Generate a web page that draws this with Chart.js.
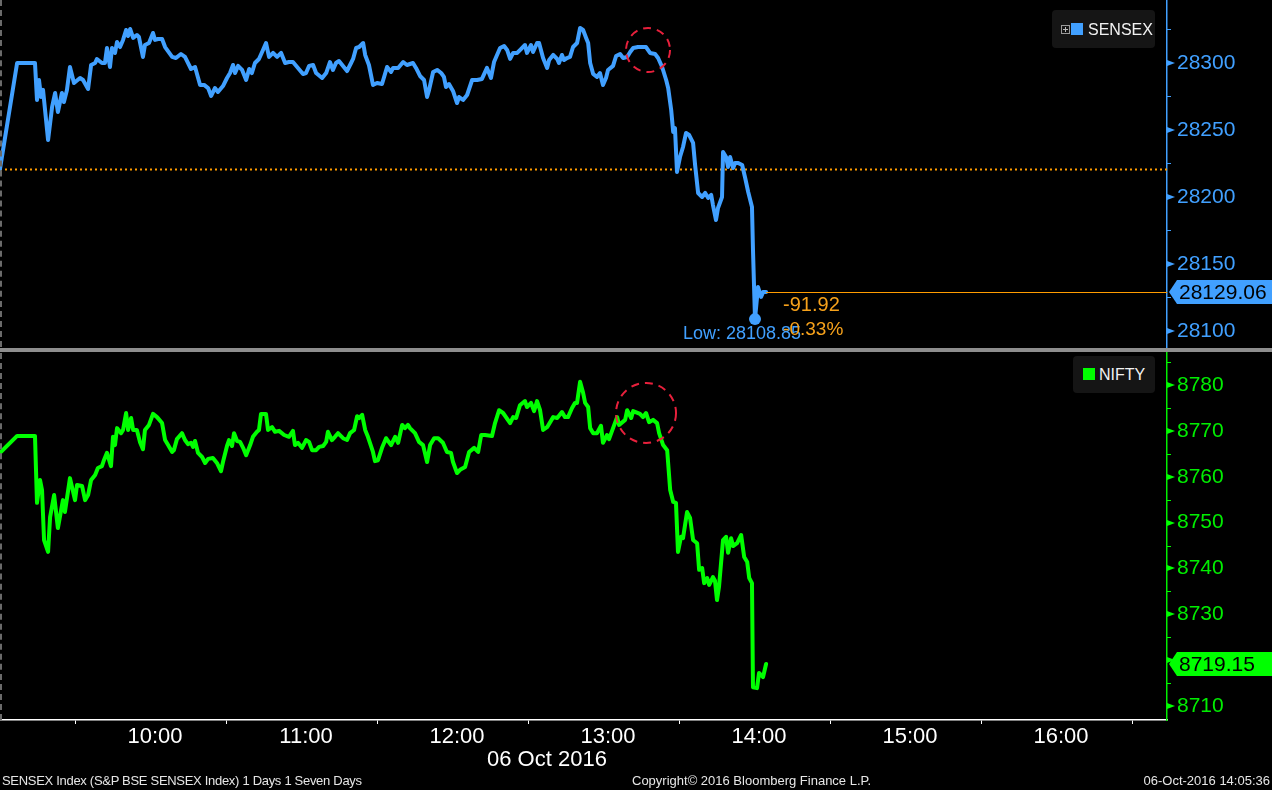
<!DOCTYPE html>
<html><head><meta charset="utf-8">
<script src="https://cdn.jsdelivr.net/npm/chart.js@4.4.1/dist/chart.umd.min.js"></script>
<style>
html,body{margin:0;padding:0;background:#000;width:1272px;height:790px;overflow:hidden;font-family:"Liberation Sans",Arial,sans-serif;}
#wrap{position:relative;width:1272px;height:790px;background:#000;}
canvas{position:absolute;left:0;}
#c1{top:0}
#c2{top:352px}
.sep{position:absolute;left:0;top:348px;width:1272px;height:4px;background:#8e8e8e;}
.ldash{position:absolute;left:0;width:0;border-left:2px dashed #6a6a6a;}
.legend{position:absolute;background:#151515;border-radius:4px;}
.legend .sw{position:absolute;}
.legend .txt{position:absolute;color:#f2f2f2;font-size:16px;line-height:16px;white-space:nowrap;}
.legend .plus{position:absolute;width:7px;height:7px;border:1px solid #9a9a9a;}
.legend .plus:before{content:"";position:absolute;left:1px;top:3px;width:5px;height:1px;background:#bbb;}
.legend .plus:after{content:"";position:absolute;left:3px;top:1px;width:1px;height:5px;background:#bbb;}
.foot{position:absolute;top:773px;color:#e6e6e6;font-size:13px;line-height:16px;white-space:nowrap;}
.date{position:absolute;left:487px;top:746px;color:#fff;font-size:22px;line-height:26px;white-space:nowrap;}
</style></head>
<body><div id="wrap">
<canvas id="c1" width="1272" height="348"></canvas>
<canvas id="c2" width="1272" height="438"></canvas>
<div class="sep"></div>
<div class="ldash" style="top:0;height:347px"></div>
<div class="ldash" style="top:353px;height:367px"></div>
<div class="legend" style="left:1052px;top:10px;width:103px;height:38px;">
  <span class="plus" style="left:9px;top:15px"></span>
  <span class="sw" style="left:19px;top:13px;width:12px;height:12px;background:#41a0ff"></span>
  <span class="txt" style="left:36px;top:12px">SENSEX</span>
</div>
<div class="legend" style="left:1073px;top:356px;width:82px;height:37px;">
  <span class="sw" style="left:10px;top:12px;width:12px;height:12px;background:#00ff00"></span>
  <span class="txt" style="left:26px;top:11px">NIFTY</span>
</div>
<div class="date">06 Oct 2016</div>
<div class="foot" style="left:2px;letter-spacing:-0.3px">SENSEX Index (S&amp;P BSE SENSEX Index) 1 Days 1 Seven Days</div>
<div class="foot" style="left:632px">Copyright© 2016 Bloomberg Finance L.P.</div>
<div class="foot" style="right:2px">06-Oct-2016 14:05:36</div>
</div>
<script>
// ---- data (times are minutes after 09:00) ----
const sensexTimes = [0,6.8,13.9,14.7,15.5,16.3,17.1,19.1,20.7,21.9,23.0,24.6,25.4,26.6,27.8,29.4,31.8,33.0,35.0,36.2,37.8,38.5,40.5,41.7,42.5,43.7,44.5,45.7,46.5,47.7,48.9,50.1,50.9,51.7,52.9,54.4,55.2,56.8,57.6,59.2,60.8,61.6,62.8,64.4,65.6,68.4,69.9,71.9,73.5,75.9,77.5,79.5,81.1,82.7,83.9,85.4,86.6,88.6,90.2,91.4,92.6,93.4,94.6,96.2,97.8,99.0,100.1,101.3,102.9,104.5,105.7,106.9,108.5,110.1,111.7,113.3,114.8,116.4,118.4,120.4,121.6,122.8,124.4,125.6,128.0,129.6,131.1,132.3,133.5,134.7,136.3,137.9,139.5,140.3,141.5,142.7,144.3,145.1,146.6,148.2,149.8,151.8,153.8,155.4,156.2,158.2,160.2,161.7,164.1,165.3,166.9,168.5,169.7,170.5,172.1,173.7,175.3,176.4,177.2,178.4,180.0,181.6,182.4,184.0,185.6,187.6,189.6,191.5,193.5,195.1,196.3,198.7,200.3,201.5,202.7,203.9,205.5,207.0,208.6,209.4,211.0,211.8,213.4,214.2,215.8,217.4,218.2,219.8,221.4,222.1,223.3,224.1,225.3,226.5,227.7,229.3,230.5,231.7,232.9,233.7,234.5,235.7,237.2,238.4,239.6,240.8,241.6,243.6,244.8,246.4,247.6,249.2,250.4,251.6,253.5,256.7,258.3,260.3,261.5,263.1,264.7,265.5,266.7,267.5,268.2,269.0,270.2,271.4,272.6,273.8,275.4,276.2,277.4,279.0,280.2,281.4,282.6,283.3,284.5,285.3,286.9,287.3,288.5,289.3,290.1,291.3,292.1,293.3,294.9,296.1,297.3,298.8,299.2,300.0,301.2,302.4,303.2,304.4];
const sensexValues = [28221,28300,28300,28272.4,28287.3,28274.6,28279.9,28242.5,28267.2,28277.6,28263.4,28277.6,28270.9,28279.9,28297,28285.1,28288.8,28287.3,28280.6,28298.5,28300,28303,28300,28300,28311.2,28297,28311.2,28307.5,28315.7,28311.9,28317.2,28324.6,28320.1,28325.4,28318.7,28320.9,28319.4,28304.5,28313.4,28314.9,28322.4,28317.2,28317.9,28317.9,28311.9,28304.5,28303.7,28306.7,28304.5,28295.5,28297,28283.6,28283.6,28281.3,28275.4,28281.3,28278.4,28282.8,28288.8,28292.5,28298.5,28292.5,28297.8,28294.8,28287.3,28295.5,28292.5,28300,28303,28309.7,28314.9,28304.5,28307.5,28304.5,28307.5,28300,28300.7,28300.7,28296.3,28291.8,28292.5,28297.8,28298.5,28292.5,28288.8,28292.5,28300.7,28294.8,28300,28301.5,28297.8,28294,28300,28303,28311.2,28311.9,28314.9,28306,28298.5,28283.6,28285.1,28284.3,28297,28293.3,28296.3,28296.3,
28300.7,28298.5,28300,28296.3,28290.3,28287.3,28274.6,28279.9,28293.3,28294.8,28292.5,28289.6,28282.1,28284.3,28279.1,28270.1,28274.6,28272.4,28276.1,28287.3,28287.3,28288.1,28296.3,28288.8,28300.7,28311.2,28312.7,28309.7,28303,28307.5,28307.5,28310.4,28313.4,28307.5,28313.4,28308.2,28314.9,28314.9,28303.7,28296.3,28302.2,28306,28303,28300,28306,28302.2,28303.7,28304.5,28311.9,28314.9,28326.1,28324.6,28318.7,28314.9,28300,28291.8,28289.6,28292.5,28283.6,28288.8,28294.8,28297.8,28305.2,28306.7,28303.7,28304.5,28308.2,28311.2,28311.9,28311.9,28307.5,28306.7,28303.7,28297,28287.3,28281.3,28264.9,28248.5,28251.5,28218.7,28229.8,28237.3,28247.8,28246.3,28240.3,28223.9,28203,28200,28203,28199.3,28201.5,28194,28182.8,28191.8,28200,28233.6,28229.8,28222.4,28229.8,28221.6,28225.4,28225.4,28223.9,28214.2,28203.7,28192.5,28160.4,28108.85,28132.8,28125.4,28129,28129.06];

const niftyTimes = [0,6.8,13.9,14.7,15.9,16.7,17.5,19.1,19.9,21.5,23.0,25.0,25.8,27.8,29.8,30.6,32.6,33.8,35.0,36.2,37.8,38.9,40.5,41.3,42.5,44.1,44.9,45.7,46.5,48.1,48.9,50.1,50.9,52.1,52.9,54.4,55.6,56.8,57.6,59.2,60.8,62.4,64.4,65.6,66.8,68.4,69.1,70.3,72.3,73.5,74.7,75.9,76.7,77.5,78.7,80.3,81.5,82.7,84.6,86.2,87.8,88.6,90.2,91.0,92.2,93.0,94.2,95.4,96.6,97.8,99.4,100.5,102.1,102.9,103.7,105.7,106.5,108.1,109.3,110.9,112.9,114.8,116.4,117.2,118.4,120.0,121.6,122.8,124.0,125.6,126.8,128.4,129.6,130.3,131.9,133.1,134.3,136.3,137.9,139.1,140.7,141.9,142.7,143.9,145.1,146.2,148.2,149.0,150.2,151.8,153.4,155.4,157.0,158.2,159.8,160.9,162.1,162.9,164.9,166.5,168.1,169.7,170.9,172.5,174.1,176.0,177.6,179.2,180.0,181.6,182.8,184.8,186.4,188.4,190.0,191.2,192.7,195.5,196.7,198.3,199.9,202.7,203.9,205.1,206.6,208.6,209.4,211.0,212.2,213.4,214.6,215.8,217.4,219.8,221.4,223.3,224.5,225.7,227.3,228.5,229.3,230.5,231.7,232.5,233.7,234.5,235.7,237.2,238.8,239.6,241.2,242.0,243.6,245.2,246.0,248.4,249.2,250.8,251.6,254.3,255.5,256.7,257.9,259.5,261.1,261.9,263.5,265.1,266.3,267.5,268.6,269.4,270.6,271.4,273.0,274.2,275.4,277.0,277.8,279.0,279.8,281.0,281.8,283.3,284.1,284.9,285.7,287.3,288.5,289.3,290.5,291.3,292.9,294.5,295.7,296.9,297.7,298.8,299.2,300.8,301.6,303.2,304.4];
const niftyValues = [8765.2,8768.9,8768.9,8754.3,8759.3,8757.1,8746.2,8743.6,8751.2,8756.0,8748.8,8754.9,8752.3,8759.7,8754.9,8758.2,8758.0,8754.9,8756.0,8759.3,8760.4,8761.9,8762.3,8763.6,8765.2,8762.3,8768.7,8766.9,8770.6,8769.5,8770.2,8773.9,8770.2,8772.8,8770.2,8770.2,8767.6,8766.0,8770.2,8771.3,8773.7,8773.0,8771.7,8768.0,8766.9,8765.4,8765.8,8768.2,8769.5,8768.0,8767.1,8767.4,8766.5,8767.8,8765.2,8764.3,8763.0,8763.9,8764.1,8763.0,8761.2,8763.2,8766.7,8768.0,8766.7,8769.5,8767.8,8767.6,8766.3,8764.7,8766.9,8768.7,8769.8,8770.2,8773.7,8773.7,8770.2,8770.8,8769.8,8770.0,8769.1,8768.7,8770.0,8766.9,8767.4,8766.3,8768.0,8767.6,8765.8,8765.8,8766.5,8766.7,8767.6,8769.8,8768.0,8768.7,8769.5,8768.4,8768.0,8769.5,8770.2,8773.2,8772.8,8773.5,8770.2,8768.7,8765.4,8763.4,8763.6,8766.3,8768.4,8766.9,8768.7,8767.4,8771.3,8770.6,8771.3,
8770.6,8769.5,8767.6,8766.9,8763.2,8766.9,8768.4,8768.4,8767.4,8765.4,8765.2,8763.2,8760.8,8761.5,8762.1,8765.4,8766.3,8765.4,8769.1,8769.1,8768.9,8771.7,8774.5,8773.9,8771.7,8773.0,8772.8,8775.6,8776.5,8775.2,8776.1,8774.3,8776.5,8774.5,8770.2,8770.8,8773.0,8772.8,8774.1,8773.0,8773.0,8775.0,8776.1,8776.1,8780.7,8778.3,8776.1,8775.2,8770.6,8769.5,8769.5,8771.1,8767.4,8769.1,8768.2,8770.6,8773.0,8771.3,8772.4,8774.5,8772.8,8774.3,8773.7,8773.0,8773.9,8771.9,8772.4,8771.7,8769.5,8766.9,8765.8,8757.1,8754.5,8754.3,8743.6,8746.9,8746.6,8752.3,8751.0,8746.2,8745.5,8739.7,8740.1,8736.8,8737.9,8736.4,8738.1,8737.3,8733.1,8736.0,8746.2,8746.9,8743.4,8746.6,8744.9,8745.5,8747.3,8742.5,8741.4,8737.9,8736.8,8714.1,8713.9,8717.2,8716.3,8719.15];

const xTicks = [30,60,90,120,150,180,210,240,270,300,330,360,390,420,450];
const hourLabels = ['10:00','11:00','12:00','13:00','14:00','15:00','16:00'];
const sensexYTicks = [28100,28125,28150,28175,28200,28225,28250,28275,28300,28325];
const niftyYTicks = [8710,8715,8720,8725,8730,8735,8740,8745,8750,8755,8760,8765,8770,8775,8780,8785];
const sensexPrevClose = 28220.98;
const sensexChange = '-91.92';
const sensexChangePct = '-0.33%';
const sensexLow = 28108.85;
const sensexCircle = {t: 257.5, v: 28309.7, r: 22};
const niftyCircle = {t: 256.7, v: 8773.9, r: 30};

// ---- styling ----
const FONT = '"Liberation Sans", Arial, sans-serif';
const BLUE = '#41a0ff';
const GREEN = '#00ff00';
const GREEN_TXT = '#00ee00';
const ORANGE = '#ff9c00';
const X_MAX = 1167 * 60 / 151;

function pts(ts, vs){ const n=Math.min(ts.length,vs.length); const a=[]; for(let i=0;i<n;i++) a.push({x:ts[i],y:vs[i]}); return a; }
const sensexData = pts(sensexTimes, sensexValues);
const niftyData = pts(niftyTimes, niftyValues);
let lowIdx = 0; sensexData.forEach((p,i)=>{ if(p.y < sensexData[lowIdx].y) lowIdx = i; });

const decor = {
  id: 'decor',
  beforeDatasetsDraw(chart, args, o){
    const {ctx, chartArea:a, scales:{y}} = chart;
    if (o.refLine != null){
      const py = Math.round(y.getPixelForValue(o.refLine)) + 0.5;
      ctx.save(); ctx.strokeStyle = ORANGE; ctx.lineWidth = 2; ctx.setLineDash([2,3]);
      ctx.beginPath(); ctx.moveTo(a.left, py); ctx.lineTo(a.right, py); ctx.stroke(); ctx.restore();
    }
  },
  afterDatasetsDraw(chart, args, o){
    const {ctx, chartArea:a, scales:{x,y}} = chart;
    const data = chart.data.datasets[0].data;
    const last = data[data.length-1];
    const lx = x.getPixelForValue(last.x), ly = y.getPixelForValue(last.y);
    if (o.lastLine){
      ctx.save(); ctx.strokeStyle = ORANGE; ctx.lineWidth = 1;
      ctx.beginPath(); ctx.moveTo(lx, Math.round(ly)+0.5); ctx.lineTo(a.right, Math.round(ly)+0.5); ctx.stroke(); ctx.restore();
    }
    if (o.circle){
      ctx.save(); ctx.strokeStyle = '#e8203c'; ctx.lineWidth = 2; ctx.setLineDash([8,6]);
      ctx.beginPath(); ctx.arc(x.getPixelForValue(o.circle.t), y.getPixelForValue(o.circle.v), o.circle.r, 0, Math.PI*2); ctx.stroke(); ctx.restore();
    }
    if (o.low){
      const p = data[lowIdx];
      ctx.save(); ctx.font = '18px ' + FONT; ctx.fillStyle = BLUE; ctx.textAlign = 'center'; ctx.textBaseline = 'middle';
      ctx.fillText('Low: ' + sensexLow.toFixed(2), x.getPixelForValue(p.x) - 13, y.getPixelForValue(p.y) + 15);
      ctx.font = '20px ' + FONT; ctx.fillStyle = '#f7a21b'; ctx.textAlign = 'left';
      ctx.fillText(sensexChange, lx + 17, ly + 13);
      ctx.font = '19px ' + FONT;
      ctx.fillText(sensexChangePct, lx + 17, ly + 38);
      ctx.restore();
    }
  },
  afterDraw(chart, args, o){
    const {ctx, scales:{y}} = chart;
    const ax = y.left;
    ctx.save(); ctx.fillStyle = o.color; ctx.strokeStyle = o.color; ctx.lineWidth = 1;
    y.ticks.forEach(t => {
      const py = Math.round(y.getPixelForValue(t.value));
      if (t.value % o.major === 0){
        ctx.beginPath(); ctx.moveTo(ax, py-3); ctx.lineTo(ax+8, py); ctx.lineTo(ax, py+3); ctx.closePath(); ctx.fill();
      } else {
        ctx.beginPath(); ctx.moveTo(ax, py+0.5); ctx.lineTo(ax+4, py+0.5); ctx.stroke();
      }
    });
    // last value box
    const data = chart.data.datasets[0].data;
    const last = data[data.length-1];
    const py = y.getPixelForValue(last.y);
    const h = 12;
    ctx.beginPath(); ctx.moveTo(ax+2, py); ctx.lineTo(ax+10, py-h); ctx.lineTo(1272, py-h); ctx.lineTo(1272, py+h); ctx.lineTo(ax+10, py+h); ctx.closePath(); ctx.fill();
    ctx.fillStyle = '#000'; ctx.font = '21px ' + FONT; ctx.textBaseline = 'middle'; ctx.textAlign = 'left';
    ctx.fillText(o.lastText, ax+12, py+1);
    ctx.restore();
  }
};

function yScale(min, max, ticks, color, major){
  return {
    position: 'right', min, max,
    afterBuildTicks: s => { s.ticks = ticks.map(v => ({value: v})); },
    afterFit: s => { s.width = 105; s.paddingTop = 0; s.paddingBottom = 0; },
    ticks: { color, font: {size: 21, family: FONT}, padding: 1, autoSkip: false,
             callback: v => (v % major === 0 ? String(v) : '') },
    grid: { display: true, drawOnChartArea: false, drawTicks: true, tickLength: 9, tickColor: 'transparent' },
    border: { display: true, color, width: 1.5 }
  };
}

const common = { responsive: false, animation: false, devicePixelRatio: 1, events: [], layout: {padding: 0} };

new Chart(document.getElementById('c1'), {
  type: 'line',
  data: { datasets: [{ label: 'SENSEX', data: sensexData, borderColor: BLUE, borderWidth: 4, tension: 0,
    borderJoinStyle: 'round', borderCapStyle: 'round',
    pointRadius: c => (c.dataIndex === lowIdx ? 6 : 0), pointBackgroundColor: BLUE, pointBorderWidth: 0 }] },
  options: Object.assign({}, common, {
    plugins: { legend: {display: false}, tooltip: {enabled: false},
      decor: { refLine: sensexPrevClose, lastLine: true, circle: sensexCircle, low: true, color: BLUE, major: 50, lastText: sensexValues[sensexValues.length-1].toFixed(2) } },
    scales: {
      x: { type: 'linear', min: 0, max: X_MAX, display: false },
      y: yScale(28087.3, 28347, sensexYTicks, BLUE, 50)
    }
  }),
  plugins: [decor]
});

new Chart(document.getElementById('c2'), {
  type: 'line',
  data: { datasets: [{ label: 'NIFTY', data: niftyData, borderColor: GREEN, borderWidth: 4, tension: 0,
    borderJoinStyle: 'round', borderCapStyle: 'round', pointRadius: 0 }] },
  options: Object.assign({}, common, {
    plugins: { legend: {display: false}, tooltip: {enabled: false},
      decor: { refLine: null, lastLine: false, circle: niftyCircle, low: false, color: GREEN, major: 10, lastText: niftyValues[niftyValues.length-1].toFixed(2) } },
    scales: {
      x: { type: 'linear', min: 0, max: X_MAX, position: 'bottom',
        afterBuildTicks: s => { s.ticks = xTicks.map(v => ({value: v})); },
        afterFit: s => { s.height = 70; s.paddingLeft = 0; s.paddingRight = 0; },
        ticks: { color: '#ffffff', font: {size: 22, family: FONT}, padding: 0, maxRotation: 0, autoSkip: false, labelOffset: 4,
          callback: v => (v % 60 === 0 ? hourLabels[v/60 - 1] : '') },
        grid: { display: true, drawOnChartArea: false, drawTicks: true, tickLength: 4, tickWidth: 1,
          tickColor: c => (c.tick && c.tick.value % 60 === 30 ? '#ffffff' : 'transparent') },
        border: { display: true, color: '#ffffff', width: 1.5 }
      },
      y: yScale(8706.95, 8787.2, niftyYTicks, GREEN_TXT, 10)
    }
  }),
  plugins: [decor]
});
</script>
</body></html>
